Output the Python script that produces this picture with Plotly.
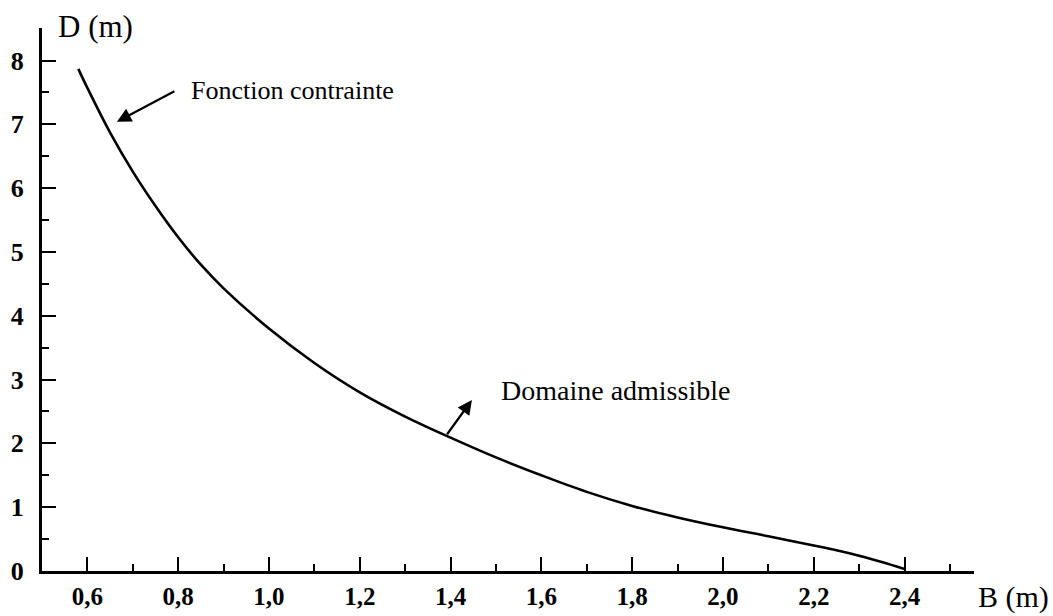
import plotly.graph_objects as go

# Curve (B in m, D in m)
B_values = [0.58, 0.60, 0.65, 0.70, 0.75, 0.80, 0.85, 0.90, 1.00, 1.10, 1.20, 1.30,
            1.40, 1.50, 1.60, 1.70, 1.80, 1.90, 2.00, 2.10, 2.20, 2.25, 2.30, 2.35, 2.40]
D_values = [7.87, 7.57, 6.87, 6.26, 5.72, 5.23, 4.80, 4.43, 3.80, 3.26, 2.80, 2.42,
            2.09, 1.78, 1.50, 1.24, 1.02, 0.84, 0.685, 0.545, 0.40, 0.325, 0.24, 0.14, 0.03]

x_title = "B (m)"
y_title = "D (m)"
label_constraint = "Fonction contrainte"
label_domain = "Domaine admissible"

SERIF = "Liberation Serif, Times New Roman, serif"

fig = go.Figure()
fig.add_trace(go.Scatter(
    x=B_values, y=D_values, mode="lines",
    line=dict(color="black", width=2.6, shape="spline", smoothing=1.0),
    showlegend=False, hoverinfo="skip",
))

fig.update_layout(
    width=1053, height=616,
    margin=dict(l=42, r=79, t=28, b=45, autoexpand=False),
    paper_bgcolor="white", plot_bgcolor="white",
    separators=", ",
    showlegend=False,
)

fig.update_xaxes(
    range=[0.5, 2.553], automargin=False,
    tickmode="linear", tick0=0.6, dtick=0.2, tickformat=".1f",
    ticks="inside", ticklen=14, tickwidth=2, tickcolor="black",
    minor=dict(tickmode="linear", tick0=0.5, dtick=0.1, ticks="inside",
               ticklen=7, tickwidth=2, tickcolor="black"),
    showline=True, linecolor="black", linewidth=3,
    showgrid=False, zeroline=False,
    tickfont=dict(family=SERIF, size=25, color="black", weight="bold"),
    ticklabelstandoff=1,
)
fig.update_yaxes(
    range=[0, 8.51], automargin=False,
    tickmode="linear", tick0=0, dtick=1,
    ticks="inside", ticklen=14, tickwidth=2, tickcolor="black",
    minor=dict(tickmode="linear", tick0=0, dtick=0.5, ticks="inside",
               ticklen=7, tickwidth=2, tickcolor="black"),
    showline=True, linecolor="black", linewidth=3,
    showgrid=False, zeroline=False,
    tickfont=dict(family=SERIF, size=26, color="black", weight="bold"),
    ticklabelstandoff=10,
)

# Axis titles
fig.add_annotation(text=y_title, xref="paper", yref="paper", x=0.015, y=1.003,
                   xanchor="left", yanchor="middle", showarrow=False,
                   font=dict(family=SERIF, size=31, color="black"))
fig.add_annotation(text=x_title, xref="paper", yref="paper", x=1.002, y=-0.047,
                   xanchor="left", yanchor="middle", showarrow=False,
                   font=dict(family=SERIF, size=30, color="black"))

# Arrows
fig.add_annotation(x=0.665, y=7.04, ax=0.795, ay=7.53, xref="x", yref="y",
                   axref="x", ayref="y", text="", showarrow=True,
                   arrowhead=2, arrowsize=1.3, arrowwidth=2.2, arrowcolor="black")
fig.add_annotation(x=1.447, y=2.68, ax=1.390, ay=2.12, xref="x", yref="y",
                   axref="x", ayref="y", text="", showarrow=True,
                   arrowhead=2, arrowsize=1.3, arrowwidth=2.2, arrowcolor="black")

# Labels
fig.add_annotation(text=label_constraint, x=0.824, y=7.53, xref="x", yref="y",
                   xanchor="left", yanchor="middle", showarrow=False,
                   font=dict(family=SERIF, size=26, color="black"))
fig.add_annotation(text=label_domain, x=1.507, y=2.83, xref="x", yref="y",
                   xanchor="left", yanchor="middle", showarrow=False,
                   font=dict(family=SERIF, size=28, color="black"))

fig.write_html("out.html")
